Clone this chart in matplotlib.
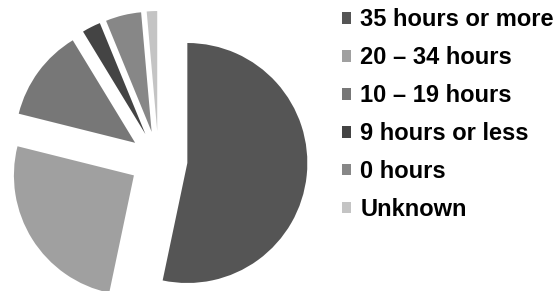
import matplotlib.pyplot as plt

# 数据
labels = ['35 hours or more', '20 – 34 hours', '10 – 19 hours',
          '9 hours or less', '0 hours', 'Unknown']
shares = [53.3, 25.6, 12.4, 2.5, 4.8, 1.4]
colors = ['#555555', '#a0a0a0', '#777777', '#444444', '#878787', '#c4c4c4']

plt.rcParams['font.family'] = ['Liberation Sans', 'DejaVu Sans']

fig = plt.figure(figsize=(5.58, 2.91), dpi=100)
ax = fig.add_axes([0, 0, 1, 1])

# 坐标按像素算: 半径 120, 各块向外推 29 像素
wedges, _ = ax.pie(shares, colors=colors, startangle=90, counterclock=False,
                   explode=[29] * len(shares), radius=120,
                   center=(158.5, 131), wedgeprops=dict(linewidth=0))
ax.set_xlim(0, 558)
ax.set_ylim(0, 291)
ax.set_aspect('equal')
ax.axis('off')

leg = ax.legend(wedges, labels, loc='upper left',
                bbox_to_anchor=(342 / 558, 1 - 8 / 291),
                bbox_transform=fig.transFigure, frameon=False,
                prop=dict(size=17, weight='bold'),
                handlelength=0.4, handleheight=0.4, handletextpad=0.38,
                labelspacing=0.635, borderaxespad=0, borderpad=0)

fig.savefig('out.png', dpi=100)
